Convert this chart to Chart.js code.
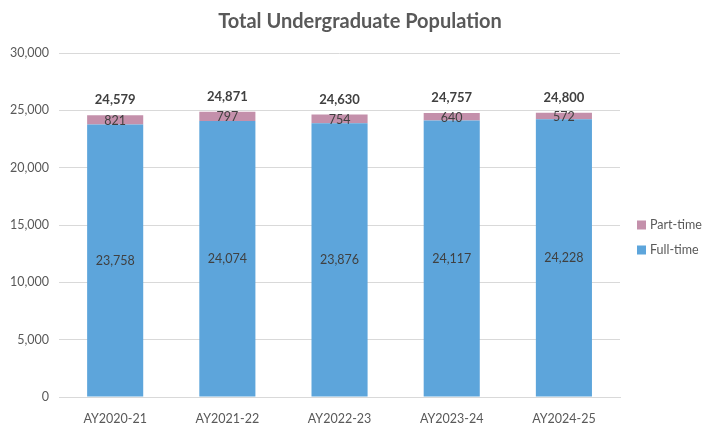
<!DOCTYPE html>
<html><head><meta charset="utf-8">
<script src="https://cdn.jsdelivr.net/npm/chart.js@4/dist/chart.umd.min.js"></script>
<style>html,body{margin:0;padding:0;background:#fff}#w{width:720px;height:432px}</style>
</head><body><div id="w"><canvas id="c"></canvas></div>
<script>
const categories = ["AY2020-21","AY2021-22","AY2022-23","AY2023-24","AY2024-25"];
const fullTime = [23758,24074,23876,24117,24228];
const partTime = [821,797,754,640,572];
const totals = [24579,24871,24630,24757,24800];
const yTicks = [0,5000,10000,15000,20000,25000,30000];
const chartTitle = 'Total Undergraduate Population';

const fmt = v => v.toLocaleString('en-US');
const FONT = "Lato, 'Open Sans', sans-serif";

const labelPlugin = {
  id: 'labels',
  afterDatasetsDraw(chart) {
    const ctx = chart.ctx;
    ctx.save();
    ctx.textAlign = 'center';
    ctx.textBaseline = 'middle';
    // title centered on the whole canvas
    ctx.font = "bold 20px " + FONT;
    ctx.fillStyle = '#595959';
    ctx.fillText(chartTitle, chart.width / 2, 22);
    chart.data.datasets.forEach((ds, di) => {
      const meta = chart.getDatasetMeta(di);
      meta.data.forEach((bar, i) => {
        ctx.font = "12.5px " + FONT;
        ctx.fillStyle = '#404040';
        const yc = (bar.y + bar.base) / 2;
        ctx.fillText(fmt(ds.data[i]), bar.x, yc + (di === 1 ? 1 : 0));
      });
    });
    const top = chart.getDatasetMeta(1);
    top.data.forEach((bar, i) => {
      ctx.font = "bold 13px " + FONT;
      ctx.fillStyle = '#404040';
      ctx.fillText(fmt(totals[i]), bar.x, bar.y - 15);
    });
    // legend (reversed order, like the reference)
    const ca = chart.chartArea;
    const items = chart.data.datasets.slice().reverse();
    const lx = ca.right + 17, ly0 = (ca.top + ca.bottom) / 2;
    ctx.textAlign = 'left';
    ctx.font = "12.5px " + FONT;
    items.forEach((ds, k) => {
      const y = ly0 + k * 25;
      ctx.fillStyle = ds.backgroundColor;
      ctx.fillRect(lx, y - 4.5, 9, 9);
      ctx.fillStyle = '#595959';
      ctx.fillText(ds.label, lx + 13, y);
    });
    ctx.restore();
  }
};

new Chart(document.getElementById('c'), {
  type: 'bar',
  data: {
    labels: categories,
    datasets: [
      { label: 'Full-time', data: fullTime, backgroundColor: '#5DA5DB', categoryPercentage: 1, barPercentage: 0.5 },
      { label: 'Part-time', data: partTime, backgroundColor: '#C490AB', categoryPercentage: 1, barPercentage: 0.5 }
    ]
  },
  options: {
    responsive: true, maintainAspectRatio: false, animation: false,
    layout: { padding: { left: 0, right: 100, top: 53, bottom: 0 } },
    plugins: {
      title: { display: false },
      legend: { display: false },
      tooltip: { enabled: false }
    },
    scales: {
      x: { stacked: true, grid: { display: false }, border: { color: '#D9D9D9' },
        ticks: { color: '#595959', font: { family: FONT, size: 12.5 }, padding: 6 } },
      y: { stacked: true, min: 0, max: 30000,
        afterBuildTicks: a => { a.ticks = yTicks.map(v => ({ value: v })); },
        grid: { color: '#D9D9D9', drawTicks: false }, border: { display: false },
        ticks: { color: '#595959', font: { family: FONT, size: 12.5 }, padding: 10, callback: v => fmt(v) } }
    }
  },
  plugins: [labelPlugin]
});
</script></body></html>
